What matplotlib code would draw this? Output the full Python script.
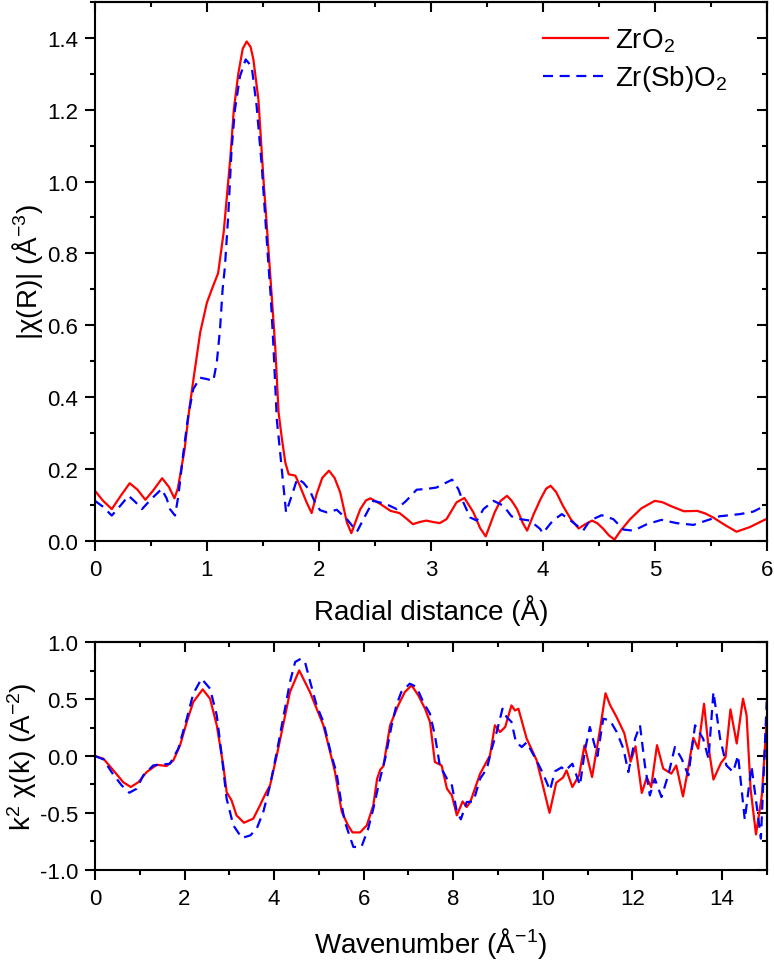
#!/usr/bin/env python3

import numpy as np
import matplotlib
matplotlib.use('Agg')
import matplotlib.pyplot as plt
from matplotlib.ticker import MultipleLocator

plt.rcParams['font.family'] = ['Liberation Sans', 'DejaVu Sans']
plt.rcParams['mathtext.default'] = 'regular'
plt.rcParams['axes.unicode_minus'] = False

# |chi(R)| - ZrO2
r_zro2 = [0.00, 0.07, 0.15, 0.23, 0.31, 0.38, 0.45, 0.52, 0.60, 0.66, 0.71, 0.74, 0.80, 0.84,
          0.88, 0.94, 1.00, 1.05, 1.10, 1.15, 1.21, 1.24, 1.28, 1.32, 1.355, 1.39, 1.415, 1.46,
          1.505, 1.535, 1.57, 1.61, 1.64, 1.67, 1.70, 1.73, 1.79, 1.83, 1.89, 1.935, 1.98, 2.03,
          2.09, 2.14, 2.19, 2.25, 2.29, 2.33, 2.37, 2.42, 2.46, 2.55, 2.64, 2.72, 2.78, 2.84,
          2.90, 2.96, 3.02, 3.08, 3.14, 3.23, 3.30, 3.38, 3.44, 3.49, 3.53, 3.57, 3.62, 3.68,
          3.72, 3.77, 3.82, 3.86, 3.92, 3.98, 4.03, 4.07, 4.12, 4.18, 4.25, 4.32, 4.38, 4.44,
          4.49, 4.54, 4.59, 4.64, 4.70, 4.78, 4.88, 5.00, 5.07, 5.14, 5.26, 5.38, 5.45, 5.52,
          5.62, 5.73, 5.85, 5.98, 6.00]
chi_zro2 = [0.139, 0.112, 0.088, 0.125, 0.160, 0.142, 0.114, 0.140, 0.174, 0.150, 0.118, 0.145,
            0.253, 0.36, 0.45, 0.58, 0.663, 0.705, 0.745, 0.86, 1.07, 1.20, 1.30, 1.37, 1.39,
            1.375, 1.34, 1.228, 1.006, 0.876, 0.72, 0.54, 0.357, 0.283, 0.218, 0.185, 0.181,
            0.153, 0.107, 0.077, 0.13, 0.175, 0.195, 0.175, 0.135, 0.051, 0.021, 0.055, 0.088,
            0.112, 0.118, 0.102, 0.083, 0.077, 0.062, 0.046, 0.052, 0.056, 0.052, 0.049, 0.060,
            0.107, 0.119, 0.079, 0.035, 0.012, 0.045, 0.079, 0.110, 0.125, 0.112, 0.088, 0.05,
            0.028, 0.075, 0.116, 0.145, 0.153, 0.135, 0.097, 0.060, 0.034, 0.046, 0.056, 0.048,
            0.033, 0.015, 0.003, 0.030, 0.060, 0.090, 0.111, 0.107, 0.097, 0.082, 0.083, 0.076,
            0.065, 0.045, 0.025, 0.038, 0.058, 0.060]

# |chi(R)| - Zr(Sb)O2
r_sb = [0.00, 0.07, 0.15, 0.22, 0.30, 0.36, 0.42, 0.50, 0.595, 0.64, 0.67, 0.715, 0.745, 0.79,
        0.833, 0.878, 0.938, 1.00, 1.057, 1.088, 1.117, 1.14, 1.16, 1.19, 1.22, 1.25, 1.295,
        1.346, 1.40, 1.444, 1.49, 1.52, 1.55, 1.57, 1.594, 1.624, 1.654, 1.677, 1.707, 1.757,
        1.807, 1.86, 1.92, 1.965, 2.01, 2.07, 2.16, 2.25, 2.34, 2.43, 2.486, 2.60, 2.695, 2.78,
        2.873, 2.96, 3.05, 3.19, 3.245, 3.29, 3.35, 3.41, 3.47, 3.56, 3.65, 3.72, 3.80, 3.885,
        3.975, 4.00, 4.09, 4.17, 4.27, 4.36, 4.42, 4.526, 4.63, 4.72, 4.81, 4.93, 5.06, 5.195,
        5.345, 5.46, 5.58, 5.76, 5.88, 6.00]
chi_sb = [0.111, 0.095, 0.070, 0.095, 0.125, 0.108, 0.088, 0.115, 0.144, 0.118, 0.088, 0.070,
          0.125, 0.246, 0.348, 0.422, 0.454, 0.450, 0.445, 0.496, 0.589, 0.70, 0.76, 0.904,
          1.089, 1.20, 1.293, 1.34, 1.32, 1.21, 1.043, 0.904, 0.765, 0.68, 0.542, 0.338, 0.246,
          0.172, 0.079, 0.125, 0.173, 0.162, 0.139, 0.107, 0.085, 0.079, 0.086, 0.060, 0.025,
          0.079, 0.111, 0.102, 0.088, 0.111, 0.142, 0.144, 0.148, 0.170, 0.144, 0.107, 0.065,
          0.056, 0.088, 0.111, 0.097, 0.068, 0.060, 0.056, 0.033, 0.021, 0.056, 0.074, 0.051,
          0.028, 0.056, 0.071, 0.060, 0.031, 0.028, 0.046, 0.058, 0.049, 0.044, 0.056, 0.068,
          0.074, 0.081, 0.100]

# k2 chi(k) - ZrO2
k_zro2 = [0.00, 0.19, 0.41, 0.63, 0.80, 0.97, 1.155, 1.38, 1.60, 1.75, 1.90, 2.05, 2.195, 2.405,
          2.57, 2.72, 2.865, 2.94, 3.05, 3.16, 3.327, 3.535, 3.685, 3.80, 3.91, 4.06, 4.20,
          4.355, 4.56, 4.80, 4.95, 5.10, 5.21, 5.36, 5.51, 5.65, 5.75, 5.92, 6.07, 6.215, 6.30,
          6.37, 6.44, 6.59, 6.77, 6.92, 7.07, 7.22, 7.37, 7.48, 7.59, 7.74, 7.86, 7.97, 8.08,
          8.21, 8.30, 8.38, 8.60, 8.82, 8.93, 9.045, 9.16, 9.30, 9.38, 9.455, 9.64, 9.71, 9.86,
          10.00, 10.15, 10.30, 10.45, 10.53, 10.66, 10.81, 10.93, 11.10, 11.28, 11.40, 11.50,
          11.65, 11.82, 11.96, 12.07, 12.21, 12.32, 12.42, 12.55, 12.69, 12.87, 12.98, 13.13,
          13.25, 13.36, 13.47, 13.60, 13.70, 13.81, 13.98, 14.08, 14.19, 14.33, 14.47, 14.55,
          14.64, 14.76, 14.89, 15.00]
k2chi_zro2 = [0.0, -0.024, -0.126, -0.23, -0.273, -0.23, -0.141, -0.077, -0.088, -0.039, 0.093,
              0.30, 0.475, 0.586, 0.504, 0.27, -0.083, -0.317, -0.39, -0.522, -0.587, -0.551,
              -0.434, -0.338, -0.258, 0.005, 0.27, 0.563, 0.753, 0.563, 0.416, 0.27, 0.10,
              -0.141, -0.49, -0.61, -0.672, -0.672, -0.61, -0.434, -0.2, -0.12, -0.09, 0.27,
              0.445, 0.563, 0.621, 0.533, 0.416, 0.30, -0.053, -0.083, -0.288, -0.347, -0.522,
              -0.40, -0.449, -0.405, -0.156, 0.005, 0.27, 0.211, 0.255, 0.445, 0.40, 0.416,
              0.152, 0.093, -0.035, -0.258, -0.50, -0.235, -0.19, -0.127, -0.273, -0.17, 0.093,
              -0.185, 0.24, 0.552, 0.45, 0.34, 0.20, -0.05, 0.085, -0.325, -0.19, -0.273, 0.095,
              -0.112, -0.155, -0.083, -0.355, -0.10, 0.16, 0.064, 0.46, 0.08, -0.207, -0.06,
              -0.01, 0.41, 0.11, 0.504, 0.36, -0.29, -0.69, -0.35, 0.31]

# k2 chi(k) - Zr(Sb)O2
k_sb = [0.00, 0.19, 0.37, 0.595, 0.766, 0.93, 1.08, 1.30, 1.45, 1.675, 1.86, 2.05, 2.195, 2.38,
        2.57, 2.72, 2.83, 2.94, 3.09, 3.28, 3.47, 3.61, 3.76, 3.91, 4.06, 4.20, 4.355, 4.47,
        4.60, 4.69, 4.80, 4.95, 5.10, 5.28, 5.39, 5.51, 5.58, 5.77, 5.95, 6.10, 6.215, 6.365,
        6.48, 6.625, 6.73, 6.84, 7.03, 7.18, 7.33, 7.48, 7.59, 7.70, 7.86, 7.97, 8.08, 8.17,
        8.30, 8.45, 8.60, 8.75, 8.86, 8.97, 9.10, 9.19, 9.30, 9.40, 9.53, 9.64, 9.86, 10.00,
        10.16, 10.27, 10.42, 10.50, 10.66, 10.83, 10.94, 11.05, 11.22, 11.35, 11.50, 11.65,
        11.80, 11.91, 12.06, 12.17, 12.28, 12.39, 12.50, 12.65, 12.80, 12.95, 13.10, 13.25,
        13.40, 13.58, 13.70, 13.81, 13.96, 14.10, 14.25, 14.36, 14.51, 14.66, 14.78, 14.87,
        15.00]
k2chi_sb = [0.0, -0.03, -0.141, -0.258, -0.323, -0.288, -0.17, -0.083, -0.077, -0.068, 0.064,
            0.328, 0.548, 0.68, 0.592, 0.357, 0.005, -0.376, -0.61, -0.721, -0.698, -0.64,
            -0.49, -0.258, 0.035, 0.328, 0.651, 0.827, 0.856, 0.827, 0.66, 0.445, 0.30, 0.005,
            -0.141, -0.434, -0.58, -0.80, -0.80, -0.64, -0.463, -0.2, -0.024, 0.27, 0.445,
            0.563, 0.636, 0.607, 0.475, 0.372, 0.181, -0.083, -0.2, -0.258, -0.49, -0.557,
            -0.405, -0.40, -0.2, -0.112, 0.064, 0.211, 0.416, 0.343, 0.30, 0.123, 0.079, 0.12,
            -0.04, -0.15, -0.302, -0.135, -0.1, -0.13, -0.068, -0.258, 0.05, 0.255, 0.0, 0.328,
            0.313, 0.211, 0.064, -0.141, 0.152, 0.27, -0.083, -0.347, -0.2, -0.361, -0.17,
            0.079, -0.024, -0.17, 0.27, 0.152, -0.024, 0.563, 0.152, -0.083, -0.141, 0.005,
            -0.56, -0.09, -0.45, -0.727, 0.48]

labels = ['ZrO$_2$', 'Zr(Sb)O$_2$']


def style_axes(ax, xmaj, xmin, ymaj, ymin):
    # Origin-like frame: ticks out on left/bottom, in on top/right
    ax.xaxis.set_major_locator(MultipleLocator(xmaj))
    ax.xaxis.set_minor_locator(MultipleLocator(xmin))
    ax.yaxis.set_major_locator(MultipleLocator(ymaj))
    ax.yaxis.set_minor_locator(MultipleLocator(ymin))
    ax.tick_params(which='both', direction='out', width=1.5, labelsize=16)
    ax.tick_params(which='major', length=7)
    ax.tick_params(which='minor', length=3.5)
    ax.tick_params(axis='x', pad=6)
    ax.tick_params(axis='y', pad=5)
    for s in ax.spines.values():
        s.set_linewidth(1.5)
    top = ax.secondary_xaxis('top')
    top.xaxis.set_major_locator(MultipleLocator(xmaj))
    top.xaxis.set_minor_locator(MultipleLocator(xmin))
    top.tick_params(which='both', direction='in', width=1.5, labeltop=False)
    top.tick_params(which='major', length=7)
    top.tick_params(which='minor', length=3.5)
    top.spines['top'].set_linewidth(1.5)
    right = ax.secondary_yaxis('right')
    right.yaxis.set_major_locator(MultipleLocator(ymaj))
    right.yaxis.set_minor_locator(MultipleLocator(ymin))
    right.tick_params(which='both', direction='in', width=1.5, labelright=False)
    right.tick_params(which='major', length=7)
    right.tick_params(which='minor', length=3.5)
    right.spines['right'].set_linewidth(1.5)


fig = plt.figure(figsize=(7.74, 9.62), dpi=100)
ax1 = fig.add_axes([0.1227, 0.4369, 0.8679, 0.5600])
ax2 = fig.add_axes([0.1227, 0.0949, 0.8679, 0.2364])

dash = (0, (4.5, 3))

ax1.plot(r_zro2, chi_zro2, color='#ff0000', lw=1.6, label=labels[0])
ax1.plot(r_sb, chi_sb, color='#0000ff', lw=1.6, ls=dash, label=labels[1])
ax1.set_xlim(0, 6)
ax1.set_ylim(0, 1.5)
style_axes(ax1, 1, 0.5, 0.2, 0.1)
ax1.set_xlabel('Radial distance (Å)', fontsize=20)
ax1.set_ylabel('|χ(R)| (Å$^{-3}$)', fontsize=20)
ax1.xaxis.set_label_coords(0.5, -0.10)
ax1.yaxis.set_label_coords(-0.074, 0.5)
ax1.legend(loc='upper left', bbox_to_anchor=(0.667, 0.955), frameon=False, fontsize=20,
           handlelength=2.35, handletextpad=0.25, labelspacing=0.35, borderpad=0,
           borderaxespad=0)

ax2.plot(k_zro2, k2chi_zro2, color='#ff0000', lw=1.6)
ax2.plot(k_sb, k2chi_sb, color='#0000ff', lw=1.6, ls=dash)
ax2.set_xlim(0, 15)
ax2.set_ylim(-1, 1)
style_axes(ax2, 2, 1, 0.5, 0.25)
ax2.set_xlabel('Wavenumber (Å$^{-1}$)', fontsize=20)
ax2.set_ylabel('k$^2$ χ(k) (A$^{-2}$)', fontsize=20)
ax2.xaxis.set_label_coords(0.5, -0.245)
ax2.yaxis.set_label_coords(-0.083, 0.5)

fig.savefig('out.png', dpi=100)
